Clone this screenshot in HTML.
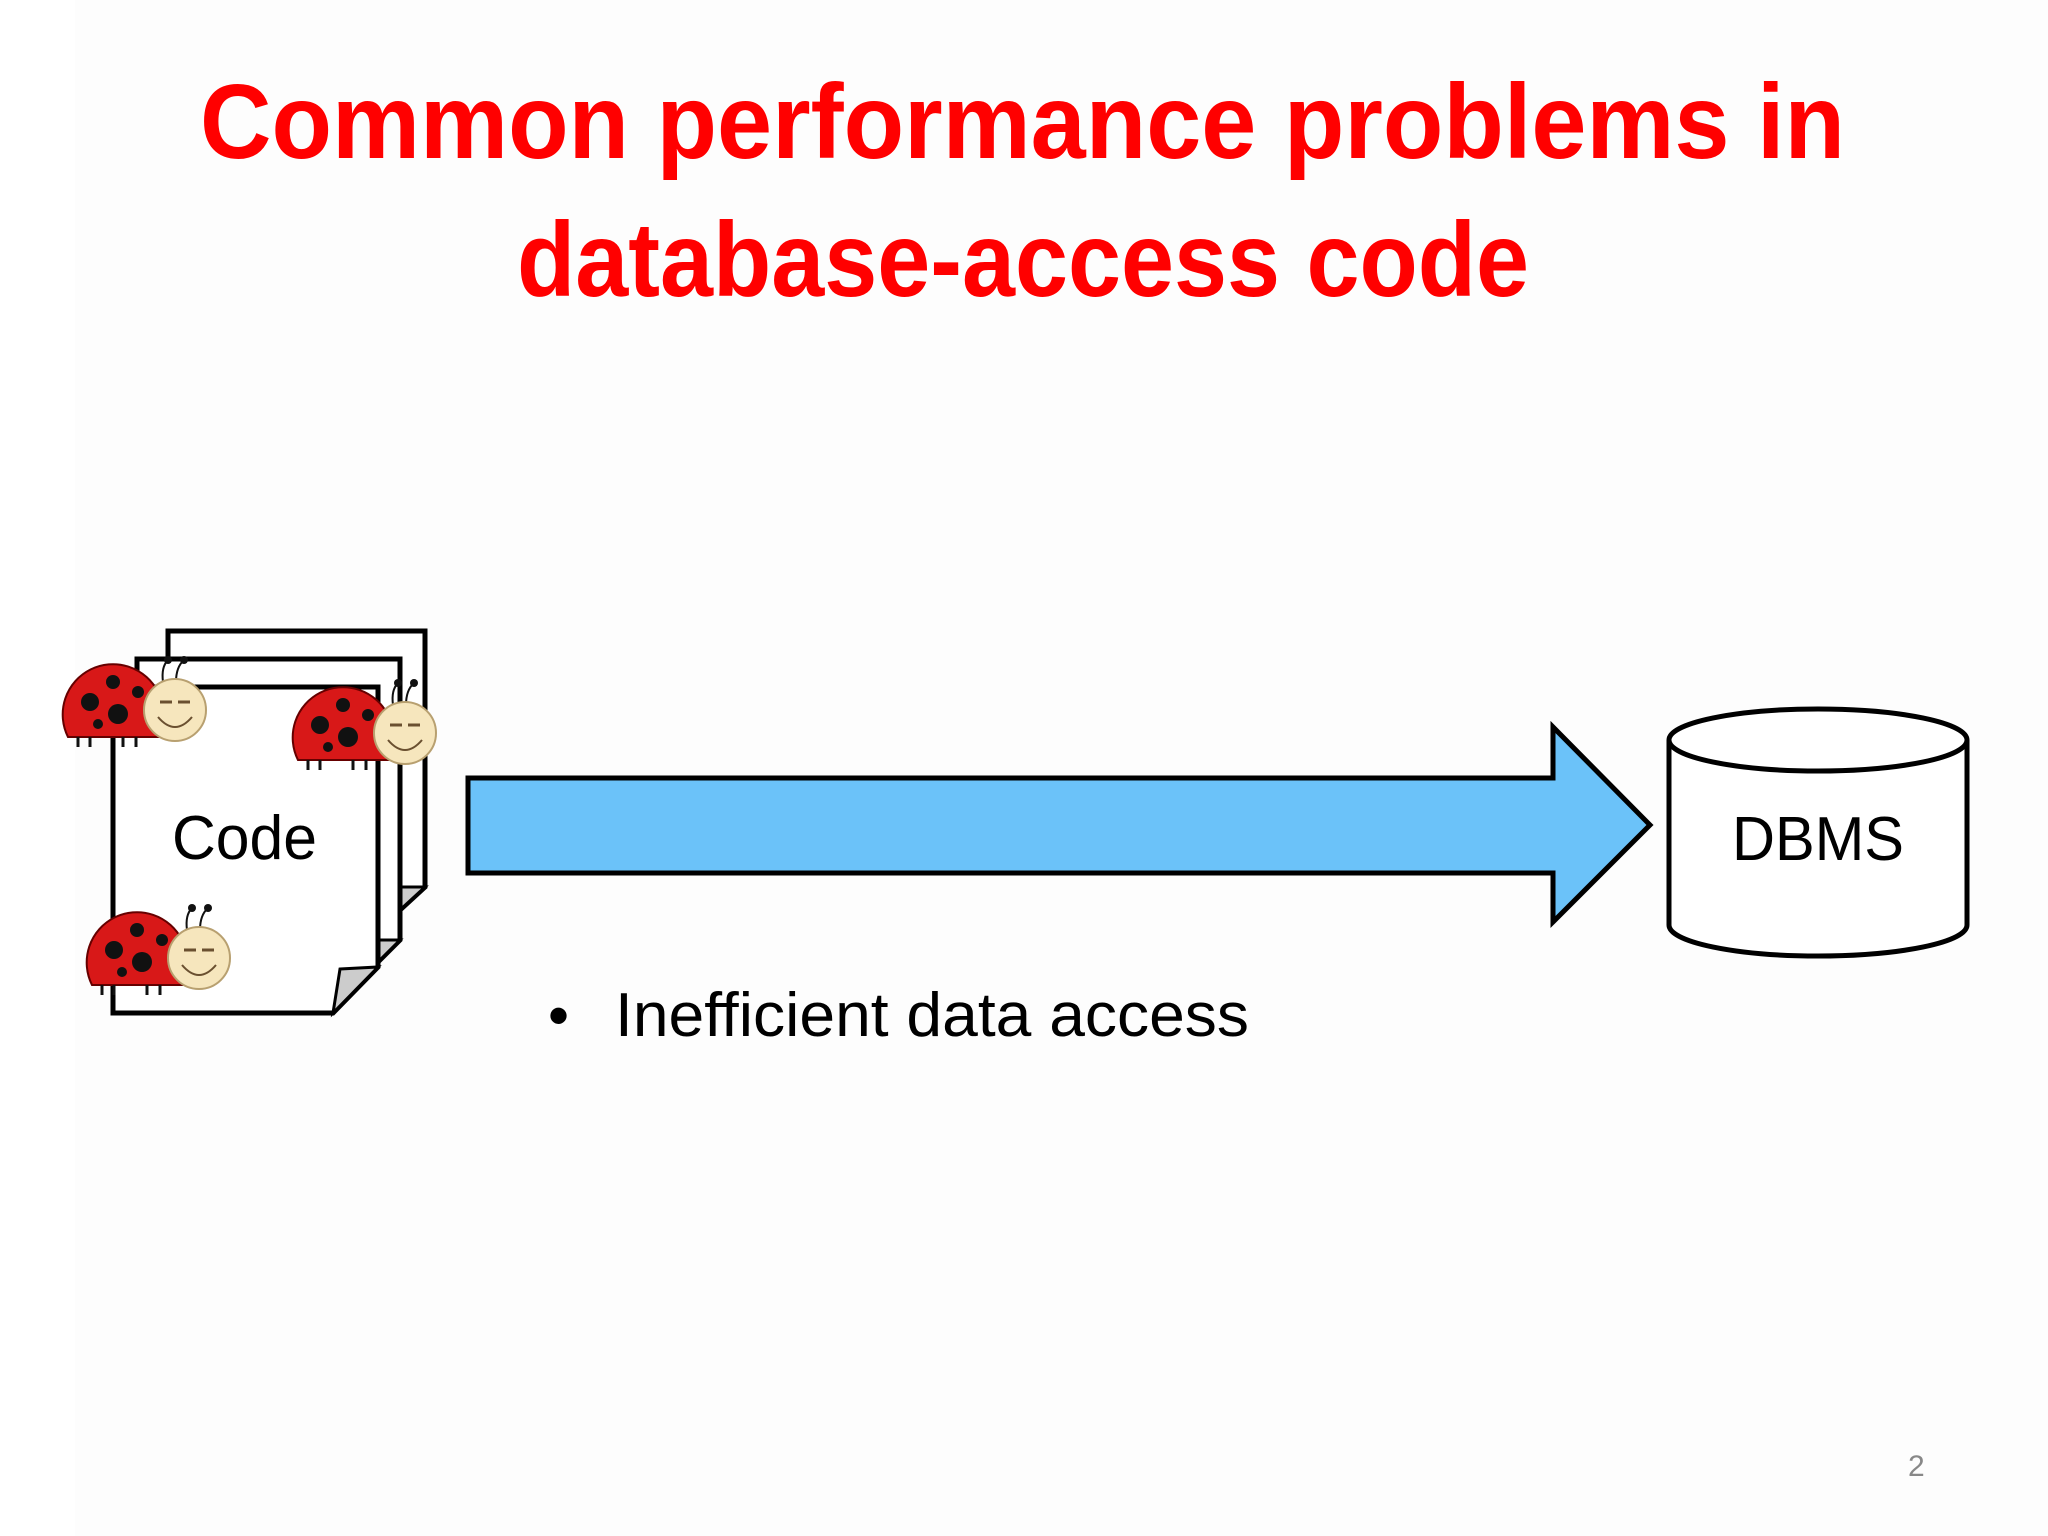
<!DOCTYPE html>
<html><head><meta charset="utf-8"><style>
html,body{margin:0;padding:0;background:#fff;}
svg{display:block;}
text{font-family:"Liberation Sans",sans-serif;}
</style></head><body>
<svg width="2048" height="1536" viewBox="0 0 2048 1536" xmlns="http://www.w3.org/2000/svg">
<rect x="0" y="0" width="2048" height="1536" fill="#fdfdfd"/>
<rect x="0" y="0" width="75" height="1536" fill="#fff"/>
<g fill="#ff0000" font-weight="bold" font-size="106">
<text x="200" y="158" textLength="1645" lengthAdjust="spacingAndGlyphs">Common performance problems in</text>
<text x="517" y="296" textLength="1012" lengthAdjust="spacingAndGlyphs">database-access code</text>
</g>
<!-- pages -->
<g stroke="#000" stroke-width="5" stroke-linejoin="miter">
<path d="M168,631 H425 V887 L400,910 H168 Z" fill="#fff"/>
<path d="M400,887 L425,887 L400,910 Z" fill="#ccc" stroke-width="3"/>
<path d="M137,659 H400 V940 L378,962 H137 Z" fill="#fff"/>
<path d="M378,940 L400,940 L378,962 Z" fill="#ccc" stroke-width="3"/>
<path d="M113,687 H378 V967 L333,1013 H113 Z" fill="#fff"/>
<path d="M340,969 L378,967 L333,1013 Z" fill="#ccc" stroke-width="3"/>
</g>
<text x="172" y="859" font-size="62" textLength="145" lengthAdjust="spacingAndGlyphs">Code</text>
<!-- ladybugs -->
<defs>
<g id="bug">
<path d="M0,75 A45,45 0 0 1 90,30 L95,75 Z" fill="#d81818"/>
<path d="M0,75 A45,45 0 0 1 90,30 L95,75 Z" fill="none" stroke="#600" stroke-width="2"/>
<circle cx="22" cy="40" r="9" fill="#111"/><circle cx="45" cy="20" r="7" fill="#111"/>
<circle cx="50" cy="52" r="10" fill="#111"/><circle cx="30" cy="62" r="5" fill="#111"/>
<circle cx="70" cy="30" r="6" fill="#111"/>
<g stroke="#111" stroke-width="3"><line x1="10" y1="75" x2="10" y2="85"/><line x1="22" y1="75" x2="22" y2="85"/><line x1="55" y1="75" x2="55" y2="85"/><line x1="68" y1="75" x2="68" y2="85"/></g>
<path d="M95,20 q-2,-15 5,-22 M108,20 q0,-15 8,-22" stroke="#111" stroke-width="2" fill="none"/>
<circle cx="100" cy="-2" r="4" fill="#111"/><circle cx="116" cy="-2" r="4" fill="#111"/>
<circle cx="107" cy="48" r="31" fill="#f6e6bd" stroke="#b8a070" stroke-width="2"/>
<path d="M90,55 q17,20 34,0" stroke="#6a5030" stroke-width="2" fill="none"/>
<path d="M92,40 h12 M110,40 h12" stroke="#6a5030" stroke-width="3"/>
</g>
</defs>
<use href="#bug" x="68" y="662"/>
<use href="#bug" x="298" y="685"/>
<use href="#bug" x="92" y="910"/>
<!-- arrow -->
<path d="M468,778 H1553 V727 L1650,825 L1553,922 V873 H468 Z" fill="#6bc2f9" stroke="#000" stroke-width="5"/>
<!-- cylinder -->
<path d="M1669,740 V925 A149,31 0 0 0 1967,925 V740" fill="#fff" stroke="#000" stroke-width="5"/>
<ellipse cx="1818" cy="740" rx="149" ry="31" fill="#fff" stroke="#000" stroke-width="5"/>
<text x="1732" y="860" font-size="62" textLength="172" lengthAdjust="spacingAndGlyphs">DBMS</text>
<text x="548" y="1036" font-size="60">•</text>
<text x="615" y="1036" font-size="62" textLength="634" lengthAdjust="spacingAndGlyphs">Inefficient data access</text>
<text x="1908" y="1476" font-size="30" fill="#888">2</text>
</svg>
</body></html>
